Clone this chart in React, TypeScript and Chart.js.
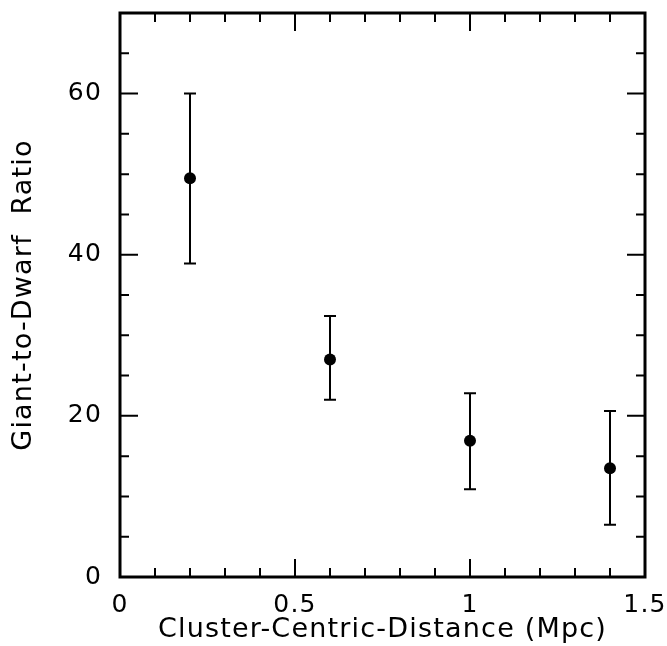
import React, { useEffect, useRef } from "react";
import { Chart, registerables } from "chart.js";

Chart.register(...registerables);

const distances = [0.2, 0.6, 1.0, 1.4];
const ratios = [49.5, 27.0, 16.9, 13.5];
const lowerErr = [38.9, 22.0, 10.9, 6.5];
const upperErr = [60.0, 32.4, 22.8, 20.6];

const xMajorStep = 0.5;
const xMinorStep = 0.1;
const yMajorStep = 20;
const yMinorStep = 5;
const xMin = 0;
const xMax = 1.5;
const yMin = 0;
const yMax = 70;

const FONT = "'DejaVu Sans', sans-serif";

const spacingPlugin = {
  id: "letterSpacing",
  beforeDraw(chart: any) {
    (chart.ctx as any).letterSpacing = "1.2px";
  },
  beforeDatasetsDraw(chart: any) {
    (chart.ctx as any).letterSpacing = "0px";
  },
};

const framePlugin = {
  id: "frameTicks",
  afterDatasetsDraw(chart: any) {
    const { ctx, chartArea, scales } = chart;
    const xs = scales.x;
    const ys = scales.y;
    ctx.save();
    ctx.strokeStyle = "#000";
    // error bars
    ctx.lineWidth = 2;
    distances.forEach((d, i) => {
      const px = xs.getPixelForValue(d);
      const pl = ys.getPixelForValue(lowerErr[i]);
      const pu = ys.getPixelForValue(upperErr[i]);
      ctx.beginPath();
      ctx.moveTo(px, pl);
      ctx.lineTo(px, pu);
      ctx.moveTo(px - 6, pl);
      ctx.lineTo(px + 6, pl);
      ctx.moveTo(px - 6, pu);
      ctx.lineTo(px + 6, pu);
      ctx.stroke();
    });
    // ticks on all four sides, pointing inward
    const majorLen = 18;
    const minorLen = 9;
    const nx = Math.round((xMax - xMin) / xMinorStep);
    for (let k = 0; k <= nx; k++) {
      const v = xMin + k * xMinorStep;
      const isMajor = Math.abs(v / xMajorStep - Math.round(v / xMajorStep)) < 1e-6;
      const len = isMajor ? majorLen : minorLen;
      const px = xs.getPixelForValue(v);
      ctx.beginPath();
      ctx.moveTo(px, chartArea.bottom);
      ctx.lineTo(px, chartArea.bottom - len);
      ctx.moveTo(px, chartArea.top);
      ctx.lineTo(px, chartArea.top + len);
      ctx.stroke();
    }
    const ny = Math.round((yMax - yMin) / yMinorStep);
    for (let k = 0; k <= ny; k++) {
      const v = yMin + k * yMinorStep;
      const isMajor = v % yMajorStep === 0;
      const len = isMajor ? majorLen : minorLen;
      const py = ys.getPixelForValue(v);
      ctx.beginPath();
      ctx.moveTo(chartArea.left, py);
      ctx.lineTo(chartArea.left + len, py);
      ctx.moveTo(chartArea.right, py);
      ctx.lineTo(chartArea.right - len, py);
      ctx.stroke();
    }
    // frame
    ctx.lineWidth = 3;
    ctx.strokeRect(
      chartArea.left,
      chartArea.top,
      chartArea.right - chartArea.left,
      chartArea.bottom - chartArea.top
    );
    ctx.restore();
  },
};

export default function App() {
  const ref = useRef<HTMLCanvasElement>(null);
  useEffect(() => {
    document.body.style.margin = "0";
    const canvas = ref.current!;
    const chart = new Chart(canvas, {
      type: "scatter",
      data: {
        datasets: [
          {
            data: distances.map((d, i) => ({ x: d, y: ratios[i] })),
            pointRadius: 6,
            pointHoverRadius: 6,
            pointBackgroundColor: "#000",
            pointBorderColor: "#000",
            pointBorderWidth: 0,
            showLine: false,
          },
        ],
      },
      options: {
        animation: false,
        responsive: false,
        maintainAspectRatio: false,
        events: [],
        layout: { padding: { top: 13, right: 22, left: 0, bottom: 0 } },
        plugins: {
          legend: { display: false },
          tooltip: { enabled: false },
        },
        scales: {
          x: {
            type: "linear",
            min: xMin,
            max: xMax,
            grid: { display: false, drawTicks: false },
            border: { display: false },
            afterFit: (s: any) => {
              s.height = 69;
              s.paddingLeft = 0;
              s.paddingRight = 0;
            },
            ticks: {
              stepSize: xMajorStep,
              padding: 13,
              maxRotation: 0,
              autoSkip: false,
              color: "#000",
              font: { family: FONT, size: 25 },
              callback: (v: any) => String(Number(v)),
            },
            title: {
              display: true,
              text: "Cluster-Centric-Distance (Mpc)",
              color: "#000",
              font: { family: FONT, size: 27 },
              padding: { top: 0, bottom: 0 },
            },
          },
          y: {
            type: "linear",
            min: yMin,
            max: yMax,
            grid: { display: false, drawTicks: false },
            border: { display: false },
            afterFit: (s: any) => {
              s.width = 120;
              s.paddingTop = 0;
              s.paddingBottom = 0;
            },
            ticks: {
              stepSize: yMajorStep,
              padding: 18,
              autoSkip: false,
              color: "#000",
              font: { family: FONT, size: 25 },
              callback: (v: any) => (Number(v) % yMajorStep === 0 ? String(v) : ""),
            },
            title: {
              display: true,
              text: "Giant-to-Dwarf  Ratio",
              color: "#000",
              font: { family: FONT, size: 27 },
              padding: { top: 8, bottom: 0 },
            },
          },
        },
      },
      plugins: [spacingPlugin, framePlugin],
    });
    return () => chart.destroy();
  }, []);
  return (
    <div style={{ width: 667, height: 646, background: "#fff" }}>
      <canvas ref={ref} width={667} height={646} style={{ display: "block" }} />
    </div>
  );
}
